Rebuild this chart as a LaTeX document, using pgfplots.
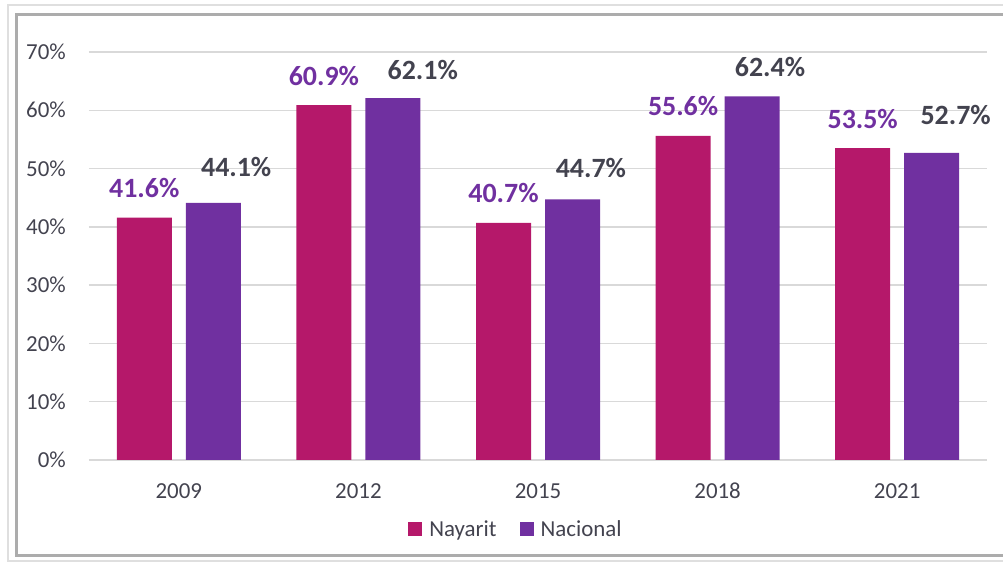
\documentclass[border=0pt]{standalone}
\usepackage{pgfplots}
\usepackage{pgfplotstable}
\pgfplotsset{compat=1.18}
\usepackage{fontspec}
\setmainfont{Carlito}
\definecolor{nay}{HTML}{B5186A}
\definecolor{nac}{HTML}{7030A0}
\definecolor{txt}{HTML}{43434F}
\definecolor{grd}{HTML}{D9D9D9}
\pgfplotstableread{
x nay nac dxnac dynac
0 41.6 44.1 23 27
1 60.9 62.1 30 19
2 40.7 44.7 18.5 22
3 55.6 62.4 18 20
4 53.5 52.7 24 28
}\datatable
\begin{document}
\begin{tikzpicture}[x=1bp,y=1bp]
\useasboundingbox (-89,-102) rectangle (914,460);
\draw[color=gray!25, line width=2bp] (-81,455) rectangle (921,-101);
\draw[color=gray!65, line width=3bp] (-72,445) rectangle (921,-96);
\begin{axis}[
  at={(0,0)}, anchor=south west,
  scale only axis, width=898bp, height=408bp,
  xmin=-0.5, xmax=4.5, ymin=0, ymax=70,
  ybar=14bp, bar width=55bp,
  xtick={0,1,2,3,4}, xticklabels={2009,2012,2015,2018,2021},
  ytick={0,10,...,70},
  yticklabel={\pgfmathprintnumber{\tick}\%},
  /pgf/number format/assume math mode=true,
  axis line style={draw=none},
  major tick length=0pt,
  ymajorgrids, major grid style={color=grd, line width=1.4bp},
  tick label style={font=\fontsize{23}{27}\selectfont, text=txt},
  yticklabel style={anchor=east, inner sep=0pt, xshift=-23bp},
  xticklabel style={anchor=base, inner sep=0pt, yshift=-39bp},
  legend image code/.code={\fill[#1] (0bp,-7bp) rectangle (14bp,7bp); \path (19bp,0bp);},
  legend style={draw=none, fill=none, font=\fontsize{23}{27}\selectfont, text=txt,
    at={(0.4755,-0.169)}, anchor=center, legend columns=2,
    /tikz/every even column/.append style={column sep=21bp}},
]
\addplot[fill=nay, draw=none,
  nodes near coords={\pgfmathprintnumber[fixed,fixed zerofill,precision=1]{\pgfplotspointmeta}\%},
  every node near coord/.append style={anchor=base, inner sep=0pt, yshift=20bp,
    font=\fontsize{28}{32}\selectfont\bfseries, text=nac, /pgf/number format/assume math mode=true},
] table[x=x, y=nay] {\datatable};
\addlegendentry{Nayarit}
\addplot[fill=nac, draw=none,
  visualization depends on={\thisrow{dxnac} \as \dxn},
  visualization depends on={\thisrow{dynac} \as \dyn},
  nodes near coords={\pgfmathprintnumber[fixed,fixed zerofill,precision=1]{\pgfplotspointmeta}\%},
  every node near coord/.append style={anchor=base, inner sep=0pt, xshift=\dxn, yshift=\dyn,
    font=\fontsize{28}{32}\selectfont\bfseries, text=txt, /pgf/number format/assume math mode=true},
] table[x=x, y=nac] {\datatable};
\addlegendentry{Nacional}
\end{axis}
\end{tikzpicture}
\end{document}
